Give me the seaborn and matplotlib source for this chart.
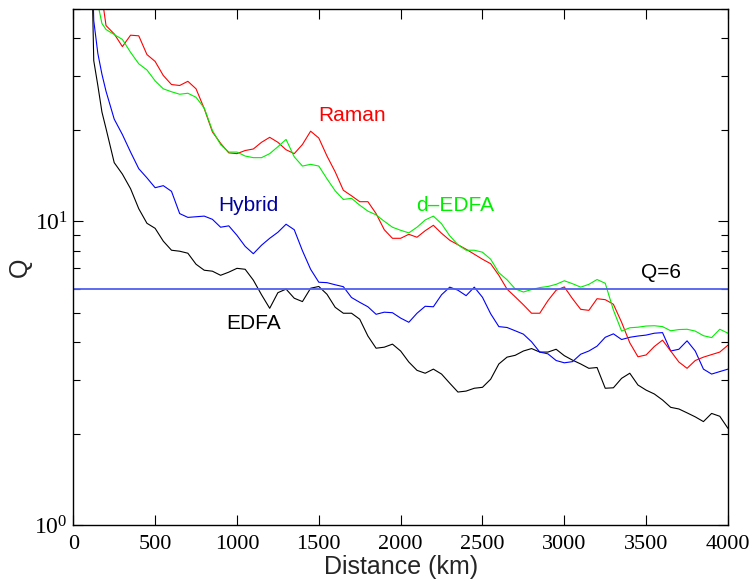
import matplotlib
matplotlib.use("Agg")
import matplotlib.pyplot as plt
import matplotlib.ticker as mticker
import seaborn as sns
import pandas as pd

# ---- data ----
distance_km = [100, 125, 150, 175, 200] + list(range(250, 4001, 50))

edfa = [150, 33.8, 28, 22.9, 20.2,
        15.6, 14.3, 12.8, 11.0, 9.85, 9.48, 8.6, 8.03, 7.97, 7.85, 7.22, 6.9, 6.85, 6.64, 6.8, 7.0,
        6.95, 6.4, 5.73, 5.17, 5.82, 5.98, 5.58, 5.44, 6.02, 6.1, 5.75, 5.21, 4.98, 4.98, 4.76, 4.19, 3.82, 3.85, 3.94, 3.74,
        3.44, 3.23, 3.16, 3.26, 3.14, 2.93, 2.74, 2.76, 2.82, 2.84, 3.02, 3.39, 3.57, 3.62, 3.74, 3.81, 3.71, 3.71, 3.79, 3.61,
        3.49, 3.39, 3.28, 3.30, 2.82, 2.83, 3.04, 3.16, 2.89, 2.78, 2.70, 2.58, 2.44, 2.41, 2.34, 2.27, 2.19, 2.33, 2.28, 2.08]

hybrid = [150, 45.8, 35.7, 30.5, 26.8,
          21.7, 19.3, 16.9, 14.9, 13.9, 12.9, 13.1, 12.55, 10.6, 10.3, 10.35, 10.4, 10.15, 9.56, 9.66, 8.99,
          8.27, 7.82, 8.34, 8.79, 9.2, 9.78, 9.38, 8.0, 6.95, 6.3, 6.28, 6.18, 6.09, 5.61, 5.41, 5.23, 4.94, 5.02, 5.0, 4.8,
          4.65, 4.98, 5.25, 5.23, 5.73, 6.07, 5.93, 5.69, 6.07, 5.62, 4.96, 4.5, 4.47, 4.36, 4.25, 4.01, 3.71, 3.66, 3.48, 3.42,
          3.45, 3.65, 3.74, 3.88, 4.15, 4.26, 4.08, 4.15, 4.19, 4.22, 4.28, 4.3, 3.74, 3.79, 4.04, 3.74, 3.26, 3.14, 3.2, 3.26]

raman = [150, 100, 75, 55, 44.1,
         41.4, 37.6, 41.0, 40.8, 35.4, 33.6, 30.2, 28.2, 28.0, 28.9, 27.3, 23.5, 19.7, 18.06, 16.8, 16.7,
         17.1, 17.3, 18.2, 18.9, 18.2, 17.2, 16.7, 17.9, 19.8, 18.8, 16.4, 14.55, 12.65, 12.13, 11.6, 11.6, 10.6, 9.38, 8.79, 8.79,
         9.06, 8.86, 9.31, 9.7, 9.13, 8.66, 8.37, 8.09, 7.79, 7.5, 7.25, 6.64, 5.98, 5.64, 5.31, 4.98, 4.98, 5.48, 5.93, 6.08,
         5.56, 5.13, 5.09, 5.56, 5.52, 5.33, 4.65, 3.98, 3.58, 3.63, 3.87, 4.06, 3.74, 3.44, 3.28, 3.48, 3.57, 3.64, 3.71, 3.91]

d_edfa = [90, 68, 52, 44.8, 42.8,
          41.2, 39.7, 36.0, 33.0, 31.5, 29.0, 27.3, 26.7, 26.2, 26.4, 25.6, 23.6, 19.9, 17.9, 16.9, 16.9,
          16.4, 16.2, 16.2, 16.7, 17.6, 18.6, 16.3, 15.2, 15.4, 15.2, 13.8, 12.6, 11.8, 11.9, 11.3, 10.8, 10.5, 10.0, 9.56, 9.34,
          9.16, 9.56, 10.1, 10.4, 9.81, 8.96, 8.37, 8.03, 8.03, 7.91, 7.5, 6.77, 6.42, 5.99, 5.85, 5.96, 6.05, 6.1, 6.2, 6.37,
          6.23, 6.07, 6.2, 6.43, 6.25, 5.1, 4.35, 4.46, 4.48, 4.52, 4.53, 4.5, 4.36, 4.4, 4.41, 4.35, 4.2, 4.14, 4.41, 4.28]

q_threshold = 6
series_names = ["EDFA", "Hybrid", "Raman", "d–EDFA"]
series_values = [edfa, hybrid, raman, d_edfa]
series_colors = ["#000000", "#0000ff", "#ff0000", "#00ee00"]
label_colors = ["#000000", "#0000a0", "#ff0000", "#00ee00"]
label_pos = [(1100, 4.62), (1069, 11.3), (1704, 22.3), (2333, 11.3)]

# ---- plotting ----
sns.set_style("white")
plt.rcParams["font.family"] = ["Liberation Sans", "DejaVu Sans"]
plt.rcParams["mathtext.fontset"] = "custom"
plt.rcParams["mathtext.rm"] = "Liberation Serif"
plt.rcParams["mathtext.it"] = "Liberation Serif:italic"
plt.rcParams["mathtext.bf"] = "Liberation Serif:bold"

fig = plt.figure(figsize=(7.54, 5.81), dpi=100)
ax = fig.add_axes([0.0972, 0.0964, 0.8683, 0.8881])

df = pd.DataFrame({"Distance": distance_km * 4,
                   "Q": sum(series_values, []),
                   "series": sum([[n] * len(distance_km) for n in series_names], [])})
for name, col in zip(series_names, series_colors):
    sub = df[df["series"] == name]
    sns.lineplot(data=sub, x="Distance", y="Q", color=col, lw=0.8, ax=ax, legend=False)

ax.axhline(q_threshold, color="#5060ee", lw=1.3)

ax.set_yscale("log")
ax.set_ylim(1, 50)
ax.set_xlim(0, 4000)
ax.set_xticks(range(0, 4001, 500))
ax.yaxis.set_major_locator(mticker.LogLocator(base=10, numticks=10))
ax.yaxis.set_minor_locator(mticker.LogLocator(base=10, subs=range(2, 10), numticks=20))
ax.yaxis.set_minor_formatter(mticker.NullFormatter())

ax.tick_params(which="both", direction="in", top=True, right=True, left=True, bottom=True,
               width=0.8, colors="black")
ax.tick_params(which="major", length=7, labelsize=16, labelfontfamily="Liberation Serif")
ax.tick_params(axis="x", which="major", pad=7)
ax.tick_params(axis="y", which="major", pad=4, labelsize=17)
ax.tick_params(which="minor", length=5)
for s in ax.spines.values():
    s.set_color("black")
    s.set_linewidth(1.0)

ax.set_xlabel("Distance (km)", fontsize=18, labelpad=1)
ax.set_ylabel("Q", fontsize=18, labelpad=2)

for name, c, (tx, ty) in zip(series_names, label_colors, label_pos):
    ax.text(tx, ty, name, color=c, fontsize=15, ha="center", va="center")
ax.text(3591, 6.8, "Q=6", color="black", fontsize=15, ha="center", va="center")

fig.savefig("out.png", dpi=100)
